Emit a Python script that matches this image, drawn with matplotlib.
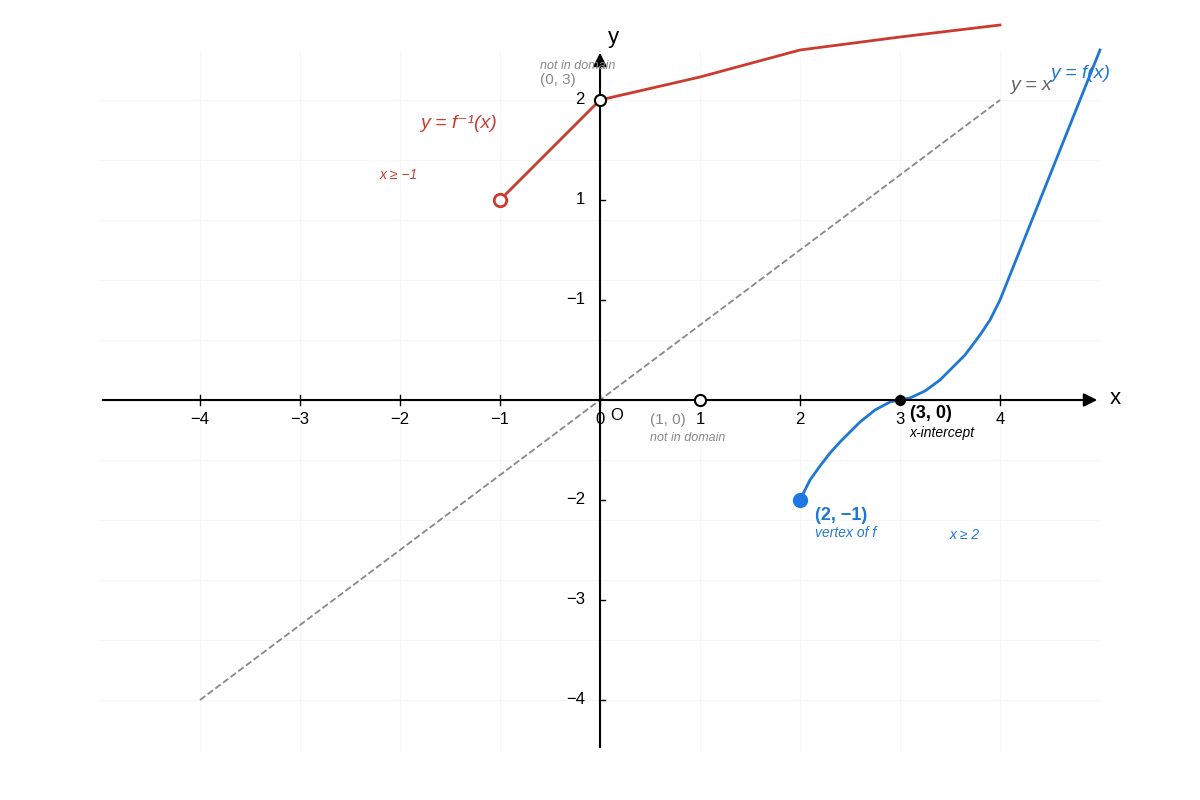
import matplotlib
matplotlib.use("Agg")
import matplotlib.pyplot as plt
import numpy as np

plt.rcParams['font.family'] = ['Liberation Sans', 'DejaVu Sans']

f_x = [2, 2.05, 2.1, 2.2, 2.3, 2.4, 2.5, 2.6, 2.75, 2.9, 3, 3.1, 3.25, 3.4, 3.5, 3.65, 3.8, 3.9, 4, 4.5, 5]
f_y = [-1, -0.9, -0.8, -0.66, -0.53, -0.42, -0.32, -0.22, -0.1, -0.02, 0, 0.02, 0.09, 0.2, 0.3, 0.45, 0.65, 0.8, 1, 2.25, 3.5]
g_x = [-1, 0, 1, 2, 3, 4]
g_y = [2, 3, 3.23, 3.5, 3.63, 3.75]
xtick_pos = [-4, -3, -2, -1, 0, 1, 2, 3, 4]
xtick_lab = ['−4', '−3', '−2', '−1', '0', '1', '2', '3', '4']
ytick_pos = [3, 2, 1, -1, -2, -3]
ytick_lab = ['2', '1', '−1', '−2', '−3', '−4']

fig = plt.figure(figsize=(12, 8), dpi=100)
ax = fig.add_axes([0, 0, 1, 1])
ax.set_xlim(-6, 6); ax.set_ylim(-4, 4)
ax.axis('off')

for gx in range(-4, 5):
    ax.plot([gx, gx], [-3.5, 3.5], color='#f6f6f6', lw=0.8, zorder=0)
for gy in np.arange(-3, 3.01, 0.6):
    ax.plot([-5, 5], [gy, gy], color='#f6f6f6', lw=0.8, zorder=0)

ax.annotate('', xy=(5, 0), xytext=(-5, 0),
            arrowprops=dict(arrowstyle='-|>', color='black', lw=1.5, mutation_scale=20))
ax.annotate('', xy=(0, 3.5), xytext=(0, -3.5),
            arrowprops=dict(arrowstyle='-|>', color='black', lw=1.5, mutation_scale=20))
for p, l in zip(xtick_pos, xtick_lab):
    ax.plot([p, p], [-0.05, 0.05], color='black', lw=1)
    ax.text(p, -0.2, l, ha='center', va='center', fontsize=12)
for p, l in zip(ytick_pos, ytick_lab):
    ax.plot([0, 0.05], [p, p], color='black', lw=1)
    ax.text(-0.15, p, l, ha='right', va='center', fontsize=12)

ax.plot([-4, 4], [-3, 3], ls='--', color='#888888', lw=1.3)
ax.plot(f_x, f_y, color='#1f77d4', lw=2, clip_on=False)
ax.plot(g_x, g_y, color='#cc3a2e', lw=2, clip_on=False)

ax.plot(-1, 2, 'o', ms=9, mfc='white', mec='#cc3a2e', mew=2, zorder=5)
ax.plot(0, 3, 'o', ms=8, mfc='white', mec='black', mew=1.5, zorder=5)
ax.plot(1, 0, 'o', ms=8, mfc='white', mec='black', mew=1.5, zorder=5)
ax.plot(3, 0, 'o', ms=7, color='black', zorder=5)
ax.plot(2, -1, 'o', ms=10, color='#1f77e4', zorder=5)

ax.text(0.08, 3.62, 'y', fontsize=16, va='center')
ax.text(5.1, 0.02, 'x', fontsize=16, va='center')
ax.text(-1.8, 2.76, 'y = f⁻¹(x)', color='#cc3a2e', fontsize=14, style='italic', va='center')
ax.text(-2.2, 2.25, 'x ≥ −1', color='#cc3a2e', fontsize=10, style='italic', va='center')
ax.text(-0.6, 3.34, 'not in domain', color='#888888', fontsize=9, style='italic', va='center')
ax.text(-0.6, 3.2, '(0, 3)', color='#888888', fontsize=11, va='center')
ax.text(4.1, 3.15, 'y = x', color='#666666', fontsize=14, style='italic', va='center')
ax.text(4.5, 3.26, 'y = f(x)', color='#1f77d4', fontsize=14, style='italic', va='center')
ax.text(0.1, -0.15, 'O', fontsize=12, va='center')
ax.text(0.5, -0.2, '(1, 0)', color='#888888', fontsize=11, va='center')
ax.text(0.5, -0.38, 'not in domain', color='#888888', fontsize=9, style='italic', va='center')
ax.text(3.1, -0.14, '(3, 0)', fontsize=13, weight='bold', va='center')
ax.text(3.1, -0.33, 'x-intercept', fontsize=10, style='italic', va='center')
ax.text(2.15, -1.15, '(2, −1)', color='#1f77d4', fontsize=13, weight='bold', va='center')
ax.text(2.15, -1.33, 'vertex of f', color='#1f77d4', fontsize=10, style='italic', va='center')
ax.text(3.5, -1.35, 'x ≥ 2', color='#1f77d4', fontsize=10, style='italic', va='center')

fig.savefig('out.png', dpi=100)
